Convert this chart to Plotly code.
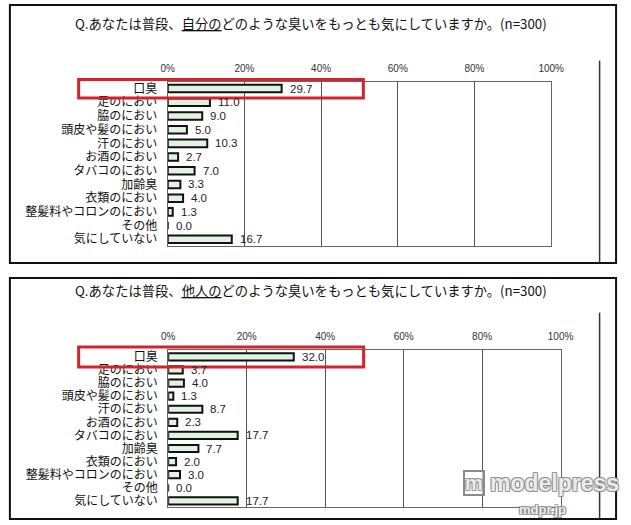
import plotly.graph_objects as go

categories = ["口臭", "足のにおい", "脇のにおい", "頭皮や髪のにおい", "汗のにおい", "お酒のにおい",
              "タバコのにおい", "加齢臭", "衣類のにおい", "整髪料やコロンのにおい", "その他", "気にしていない"]
self_vals = [29.7, 11.0, 9.0, 5.0, 10.3, 2.7, 7.0, 3.3, 4.0, 1.3, 0.0, 16.7]
other_vals = [32.0, 3.7, 4.0, 1.3, 8.7, 2.3, 17.7, 7.7, 2.0, 3.0, 0.0, 17.7]
tick_vals = [0, 20, 40, 60, 80, 100]
tick_text = ["0%", "20%", "40%", "60%", "80%", "100%"]
title_self = "Q.あなたは普段、<u>自分の</u>どのような臭いをもっとも気にしていますか。(n=300)"
title_other = "Q.あなたは普段、<u>他人の</u>どのような臭いをもっとも気にしていますか。(n=300)"

W, H = 631, 525
JP = "Noto Sans CJK JP, Noto Sans, sans-serif"
NARROW = "Liberation Sans Narrow, Liberation Sans, Arial, sans-serif"
BAR_FILL = "#e0f3e0"

def px(v):
    return 1 - v / H

fig = go.Figure()
for vals, xa, ya in [(self_vals, "x", "y"), (other_vals, "x2", "y2")]:
    fig.add_trace(go.Bar(
        x=vals, y=categories, orientation="h", xaxis=xa, yaxis=ya,
        marker=dict(color=BAR_FILL, line=dict(color="#111111", width=2)),
        width=0.55, showlegend=False, hoverinfo="skip",
    ))
    for v, c in zip(vals, categories):
        fig.add_annotation(x=v, y=c, xref=xa, yref=ya, text=f"{v:.1f}", showarrow=False,
                           xanchor="left", xshift=6, font=dict(family=NARROW, size=11.5, color="#222"))

axis_common = dict(range=[0, 100], side="top", tickvals=tick_vals, ticktext=tick_text,
                   showgrid=True, gridcolor="#555555", gridwidth=1, zeroline=False,
                   showline=True, linecolor="#666666", linewidth=1, mirror=True,
                   ticks="", ticklabelstandoff=5,
                   tickfont=dict(family=NARROW, size=10, color="#333"), fixedrange=True)
yaxis_common = dict(categoryorder="array", categoryarray=categories, range=[11.5, -0.5],
                    tickmode="array", tickvals=categories, ticktext=categories,
                    showgrid=False, zeroline=False, showline=True, linecolor="#666666",
                    linewidth=1, mirror=True, ticks="", ticklabelstandoff=7,
                    tickfont=dict(family=JP, size=12, color="#111"), fixedrange=True)

fig.update_layout(
    width=W, height=H, margin=dict(l=0, r=0, t=0, b=0),
    paper_bgcolor="white", plot_bgcolor="white", bargap=0.45,
    xaxis=dict(domain=[166 / W, 562 / W], anchor="y", **axis_common),
    yaxis=dict(domain=[px(245), px(79.3)], anchor="x", **yaxis_common),
    xaxis2=dict(domain=[166.5 / W, 571.7 / W], anchor="y2", **axis_common),
    yaxis2=dict(domain=[px(508.3), px(350)], anchor="x2", **yaxis_common),
)

# titles
for t, yy in [(title_self, 20.5), (title_other, 290)]:
    fig.add_annotation(x=314 / W, y=px(yy), xref="paper", yref="paper", text=t, showarrow=False,
                       xanchor="center", yanchor="middle", font=dict(family=JP, size=13.3, color="#111"))

# panel frames
for y0, y1 in [(2, 262), (277, 520)]:
    fig.add_shape(type="rect", xref="paper", yref="paper", x0=3 / W, x1=629 / W, y0=px(y1), y1=px(y0),
                  line=dict(color="#111111", width=2), layer="above")
for y0, y1 in [(58, 262), (312, 520)]:
    fig.add_shape(type="line", xref="paper", yref="paper", x0=612 / W, x1=612 / W, y0=px(y1), y1=px(y0),
                  line=dict(color="#333333", width=1.5))

# red highlight boxes around the first category (decoration)
for x0, x1, y0, y1 in [(74, 368, 77, 95.7), (74, 368.3, 346.7, 366.7)]:
    fig.add_shape(type="rect", xref="paper", yref="paper", x0=x0 / W, x1=x1 / W, y0=px(y1), y1=px(y0),
                  line=dict(color="#d6222a", width=3), layer="above")

# watermark
outline = "1px 1px 0 #8a8a8a, -1px -1px 0 #8a8a8a, 1px -1px 0 #8a8a8a, -1px 1px 0 #8a8a8a"
fig.add_annotation(x=497 / W, y=px(484), xref="paper", yref="paper", text="<b>modelpress</b>",
                   showarrow=False, xanchor="left", yanchor="middle",
                   font=dict(family=NARROW, size=23, color="rgba(255,255,255,0.85)", shadow=outline))
fig.add_annotation(x=482 / W, y=px(484), xref="paper", yref="paper", text="<b>m</b>",
                   showarrow=False, xanchor="center", yanchor="middle", bordercolor="#8a8a8a",
                   borderwidth=2, borderpad=0, bgcolor="rgba(255,255,255,0.6)",
                   font=dict(family=NARROW, size=20, color="rgba(255,255,255,0.85)", shadow=outline))
fig.add_annotation(x=553 / W, y=px(510), xref="paper", yref="paper", text="<b>mdpr.jp</b>",
                   showarrow=False, xanchor="center", yanchor="middle",
                   font=dict(family=NARROW, size=13, color="rgba(255,255,255,0.85)", shadow=outline))

fig.write_html("out.html", config={"displayModeBar": False},
               post_script="document.body.style.margin='0';")
